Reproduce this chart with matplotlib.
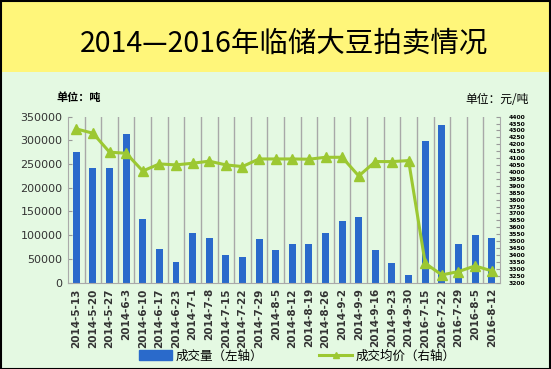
import numpy as np
import matplotlib
matplotlib.use("Agg")
import matplotlib.pyplot as plt
import matplotlib.patches as mpatches
from matplotlib.lines import Line2D

plt.rcParams['font.family'] = ['Noto Sans CJK SC', 'DejaVu Sans']

# ===== dane =====
dates = [
    "2014-5-13", "2014-5-20", "2014-5-27", "2014-6-3", "2014-6-10",
    "2014-6-17", "2014-6-23", "2014-7-1", "2014-7-8", "2014-7-15",
    "2014-7-22", "2014-7-29", "2014-8-5", "2014-8-12", "2014-8-19",
    "2014-8-26", "2014-9-2", "2014-9-9", "2014-9-16", "2014-9-23",
    "2014-9-30", "2016-7-15", "2016-7-22", "2016-7-29", "2016-8-5",
    "2016-8-12",
]
volume = [
    275000, 242500, 242500, 313000, 134000,
    71000, 43000, 105000, 94000, 58000,
    55000, 93000, 68000, 81500, 82000,
    105000, 131000, 139000, 68000, 41500,
    17000, 299500, 332000, 82000, 100000,
    95000,
]
price = [
    4311, 4280, 4143, 4135, 4007,
    4058, 4051, 4063, 4078, 4051,
    4039, 4094, 4094, 4094, 4092,
    4106, 4106, 3971, 4075, 4075,
    4082, 3340, 3256, 3280, 3321,
    3285,
]
left_ticks = list(range(0, 350001, 50000))
right_ticks = list(range(3200, 4401, 50))
title = "2014—2016年临储大豆拍卖情况"

bg_green = "#e4f9e2"
band_yellow = "#fff67a"
bar_blue = "#2a6acb"
line_green = "#9cc832"

fig = plt.figure(figsize=(5.51, 3.69), dpi=100)
fig.patch.set_facecolor(bg_green)

# żółty pasek z tytułem + ramka
fig.patches.append(mpatches.Rectangle((0, 0.805), 1, 0.195, transform=fig.transFigure,
                                      facecolor=band_yellow, edgecolor="none", zorder=0))
fig.patches.append(mpatches.Rectangle((0.001, 0.001), 0.997, 0.997, transform=fig.transFigure,
                                      fill=False, edgecolor="black", lw=1.5, zorder=5))
fig.text(0.515, 0.882, title, ha="center", va="center", fontsize=20.5, color="black")

ax = fig.add_axes([0.1234, 0.234, 0.7840, 0.450])
ax.set_facecolor("none")
x = np.arange(len(dates))

ax.bar(x, volume, width=0.42, color=bar_blue, zorder=2)
ax.set_xlim(-0.5, len(dates) - 0.5)
ax.set_ylim(0, 350000)
ax.set_yticks(left_ticks)
ax.set_yticklabels([str(v) for v in left_ticks], fontsize=8,
                   color="#333333", family="DejaVu Sans")
ax.set_xticks(x)
ax.set_xticklabels(dates, rotation=90, fontsize=7.5, color="#333333",
                   family="DejaVu Sans", fontweight="bold")
ax.tick_params(axis="x", length=0, pad=4)
ax.tick_params(axis="y", direction="in", length=3, color="#999999", pad=4)

# pionowe linie między kategoriami
for b in x[:-1] + 0.5:
    ax.axvline(b, color="#a8a8a8", lw=1.0, zorder=1)

for side in ["top", "right"]:
    ax.spines[side].set_visible(False)
ax.spines["left"].set_color("#aaaaaa")
ax.spines["bottom"].set_color("#aaaaaa")

ax2 = ax.twinx()
ax2.plot(x, price, color=line_green, lw=2.2, marker="^", markersize=7,
         markerfacecolor=line_green, markeredgecolor=line_green, zorder=3)
ax2.set_ylim(3200, 4400)
ax2.set_yticks(right_ticks)
ax2.set_yticklabels([str(v) for v in right_ticks], fontsize=4.3,
                    color="black", family="DejaVu Sans", fontweight="bold")
ax2.tick_params(axis="y", direction="in", length=3, color="#999999", pad=6)
for side in ["top", "left", "bottom"]:
    ax2.spines[side].set_visible(False)
ax2.spines["right"].set_color("#aaaaaa")

fig.text(0.142, 0.737, "单位：吨", ha="center", va="center", fontsize=8, fontweight="bold")
fig.text(0.903, 0.729, "单位：元/吨", ha="center", va="center", fontsize=8.5)

handles = [
    mpatches.Patch(color=bar_blue, label="成交量（左轴）"),
    Line2D([0], [0], color=line_green, lw=2.2, marker="^", markersize=5,
           label="成交均价（右轴）"),
]
fig.legend(handles=handles, loc="center", bbox_to_anchor=(0.54, 0.035), ncol=2,
           frameon=False, fontsize=9, handlelength=2.6, handleheight=0.8,
           columnspacing=4.5, handletextpad=0.3)

fig.savefig("out.png", dpi=100, facecolor=fig.get_facecolor())
